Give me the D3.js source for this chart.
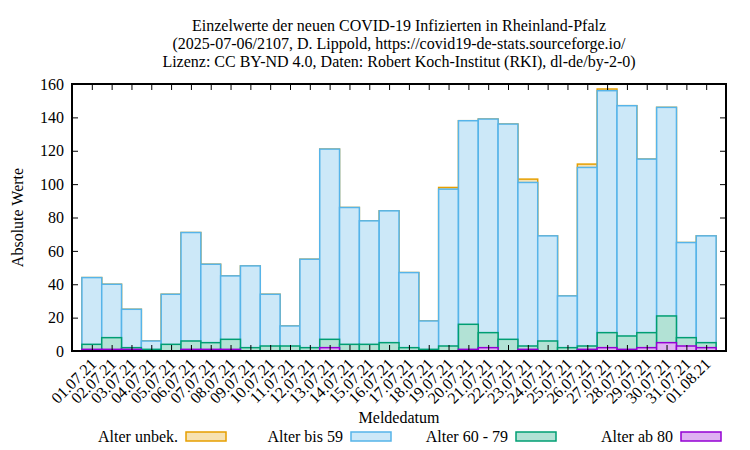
<!DOCTYPE html>
<html>
<head>
<meta charset="utf-8">
<script src="https://cdn.jsdelivr.net/npm/d3@7"></script>
<style>
  body { margin: 0; background: #fff; }
  svg { font-family: "Liberation Serif", "DejaVu Serif", serif; font-size: 16px; }
</style>
</head>
<body>
<svg id="chart" width="750" height="450"></svg>
<script>
// Meldedatum labels
const dates = ['01.07.21','02.07.21','03.07.21','04.07.21','05.07.21','06.07.21','07.07.21','08.07.21',
  '09.07.21','10.07.21','11.07.21','12.07.21','13.07.21','14.07.21','15.07.21','16.07.21',
  '17.07.21','18.07.21','19.07.21','20.07.21','21.07.21','22.07.21','23.07.21','24.07.21',
  '25.07.21','26.07.21','27.07.21','28.07.21','29.07.21','30.07.21','31.07.21','01.08.21'];

// counts per age group
const ab80   = [1,1,1,0,0,1,1,1,0,0,0,0,2,0,0,0,0,0,0,1,2,0,1,0,0,1,2,1,2,5,3,2];
const a6079  = [3,7,1,1,4,5,4,6,2,3,3,2,5,4,4,5,2,1,3,15,9,7,2,6,2,2,9,8,9,16,5,3];
const bis59  = [40,32,23,5,30,65,47,38,49,31,12,53,114,82,74,79,45,17,94,122,128,129,98,63,31,107,145,138,104,125,57,64];
const unbek  = [0,0,0,0,0,0,0,0,0,0,0,0,0,0,0,0,0,0,1,0,0,0,2,0,0,2,1,0,0,0,0,0];

const yTicks = [0,20,40,60,80,100,120,140,160];

const titleLines = [
  'Einzelwerte der neuen COVID-19 Infizierten in Rheinland-Pfalz',
  '(2025-07-06/2107, D. Lippold, https://covid19-de-stats.sourceforge.io/',
  'Lizenz: CC BY-ND 4.0, Daten: Robert Koch-Institut (RKI), dl-de/by-2-0)'
];

// series drawn back to front: each box goes from 0 to its cumulative height
const series = [
  { name: 'Alter unbek.', line: '#e69f00', fill: '#f7e2b2', vals: unbek },
  { name: 'Alter bis 59', line: '#56b4e9', fill: '#cce8f8', vals: bis59 },
  { name: 'Alter 60 - 79', line: '#009e73', fill: '#b2e2d5', vals: a6079 },
  { name: 'Alter ab 80', line: '#9400d3', fill: '#dfb2f2', vals: ab80 }
];
// cumulative sums from the bottom group (ab80) upward
series.forEach((s, k) => {
  s.cum = dates.map((d, i) => d3.sum(series.slice(k), t => t.vals[i]));
});

const mLeft = 72, mRight = 726, mTop = 84, mBottom = 351;
const svg = d3.select('#chart');

const x = d3.scaleLinear().domain([-1, dates.length]).range([mLeft, mRight]);
const y = d3.scaleLinear().domain([0, 160]).range([mBottom, mTop]);
const bw = x(1) - x(0);

// title
svg.append('text')
  .attr('text-anchor', 'middle')
  .selectAll('tspan')
  .data(titleLines)
  .enter().append('tspan')
  .attr('x', (mLeft + mRight) / 2)
  .attr('y', (d, i) => 31 + i * 18)
  .text(d => d);

// bars
series.forEach(s => {
  svg.append('g')
    .selectAll('rect')
    .data(s.cum)
    .enter().append('rect')
    .attr('x', (d, i) => x(i) - bw / 2)
    .attr('y', d => y(d))
    .attr('width', bw)
    .attr('height', d => mBottom - y(d))
    .attr('fill', s.fill)
    .attr('stroke', s.line)
    .attr('stroke-width', 1.5);
});

// axes with inward ticks
svg.append('g')
  .attr('transform', `translate(${mLeft},0)`)
  .call(d3.axisLeft(y).tickValues(yTicks).tickSize(-6).tickPadding(8));
svg.append('g')
  .attr('transform', `translate(${mRight},0)`)
  .call(d3.axisRight(y).tickValues(yTicks).tickSize(-6).tickFormat(''));
svg.append('g')
  .attr('transform', `translate(0,${mTop})`)
  .call(d3.axisTop(x).tickValues(d3.range(dates.length)).tickSize(-6).tickFormat(''));
const xAxis = svg.append('g')
  .attr('transform', `translate(0,${mBottom})`)
  .call(d3.axisBottom(x).tickValues(d3.range(dates.length)).tickSize(-6).tickFormat(i => dates[i]));

svg.selectAll('.domain').remove();
svg.selectAll('.tick line').attr('stroke', '#000').attr('stroke-width', 1);
svg.selectAll('.tick text').attr('fill', '#000').style('font-size', '16px')
  .style('font-family', '"Liberation Serif", serif');

xAxis.selectAll('.tick text')
  .attr('text-anchor', 'end')
  .attr('y', 0).attr('dy', 0)
  .attr('transform', 'translate(5,14) rotate(-45)');

// border
svg.append('rect')
  .attr('x', mLeft).attr('y', mTop)
  .attr('width', mRight - mLeft).attr('height', mBottom - mTop)
  .attr('fill', 'none').attr('stroke', '#000').attr('stroke-width', 2);

// axis titles
svg.append('text')
  .attr('transform', `translate(23,${(mTop + mBottom) / 2}) rotate(-90)`)
  .attr('text-anchor', 'middle')
  .text('Absolute Werte');
svg.append('text')
  .attr('x', (mLeft + mRight) / 2).attr('y', 423)
  .attr('text-anchor', 'middle')
  .text('Meldedatum');

// legend
const legend = svg.append('g')
  .selectAll('g')
  .data(series)
  .enter().append('g')
  .attr('transform', (d, i) => `translate(${186 + i * 165},432)`);
legend.append('text')
  .attr('x', -8).attr('y', 10)
  .attr('text-anchor', 'end')
  .text(d => d.name);
legend.append('rect')
  .attr('width', 40).attr('height', 9)
  .attr('fill', d => d.fill)
  .attr('stroke', d => d.line)
  .attr('stroke-width', 1.5);
</script>
</body>
</html>
